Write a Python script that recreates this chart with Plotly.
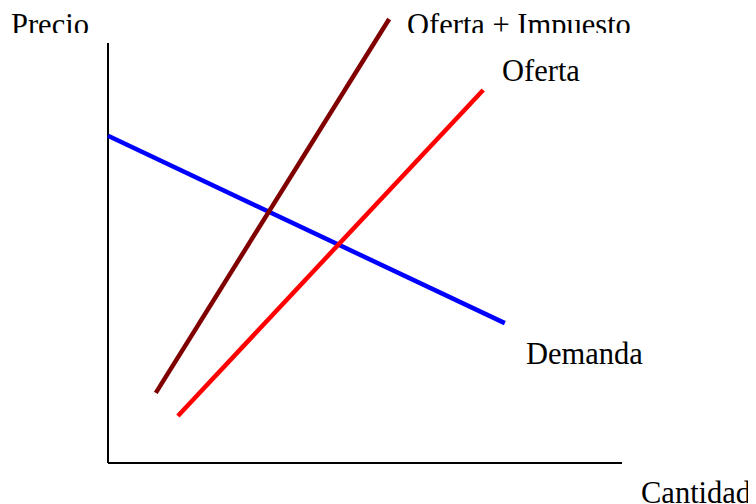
import plotly.graph_objects as go

# Data (quantity, price) in chart units
demanda_q = [0.0, 7.72]
demanda_p = [7.79, 3.33]
oferta_q = [1.36, 7.30]
oferta_p = [1.12, 8.88]
oferta_imp_q = [0.93, 5.47]
oferta_imp_p = [1.67, 10.57]
axis_max = 10

labels = ["Precio", "Oferta + Impuesto", "Oferta", "Demanda", "Cantidad"]

PAGE_M = 8              # default body margin of the page
W, H = 756 - PAGE_M, 504 - PAGE_M
PXX, PXY = 51.4, 42.0   # pixels per unit
OX, OY = 108 - PAGE_M, 463 - PAGE_M  # origin pixel inside the figure

xr = [-OX / PXX, (W - OX) / PXX]
yr = [-(H - OY) / PXY, OY / PXY]

font = dict(family="Liberation Serif, Times New Roman, serif", size=30.5, color="black")

fig = go.Figure()
# axes
fig.add_trace(go.Scatter(x=[0, axis_max], y=[0, 0], mode="lines",
                         line=dict(color="black", width=2), hoverinfo="skip"))
fig.add_trace(go.Scatter(x=[0, 0], y=[0, axis_max], mode="lines",
                         line=dict(color="black", width=2), hoverinfo="skip"))
# curves
fig.add_trace(go.Scatter(x=demanda_q, y=demanda_p, mode="lines",
                         line=dict(color="#0000FF", width=4.5)))
fig.add_trace(go.Scatter(x=oferta_imp_q, y=oferta_imp_p, mode="lines",
                         line=dict(color="#800000", width=4.5)))
fig.add_trace(go.Scatter(x=oferta_q, y=oferta_p, mode="lines",
                         line=dict(color="#FF0000", width=4.5)))

def px2x(px):
    return (px - PAGE_M - OX) / PXX

def py2y(py):
    return (OY - (py - PAGE_M)) / PXY

# unclipped labels (positions in page pixels)
fig.add_trace(go.Scatter(
    x=[px2x(502), px2x(526), px2x(641)],
    y=[py2y(73.5), py2y(356.5), py2y(495)],
    text=[labels[2], labels[3], labels[4]],
    mode="text", textposition="middle right", textfont=font, cliponaxis=False))

# clipped labels (top strip)
clip_h = 33 - PAGE_M
fig.add_trace(go.Scatter(
    x=[px2x(11), px2x(407)],
    y=[py2y(27.5), py2y(27.5)],
    text=[labels[0], labels[1]],
    mode="text", textposition="middle right", textfont=font, cliponaxis=True,
    xaxis="x2", yaxis="y2"))

fig.update_layout(
    width=W, height=H, margin=dict(l=0, r=0, t=0, b=0),
    paper_bgcolor="white", plot_bgcolor="rgba(0,0,0,0)",
    showlegend=False,
    xaxis=dict(range=xr, domain=[0, 1], visible=False, fixedrange=True),
    yaxis=dict(range=yr, domain=[0, 1], visible=False, fixedrange=True),
    xaxis2=dict(range=xr, domain=[0, 1], visible=False, anchor="y2", overlaying="x"),
    yaxis2=dict(range=[(OY - clip_h) / PXY, OY / PXY], domain=[1 - clip_h / H, 1],
                visible=False, anchor="x2"),
)

fig.write_html("out.html")
